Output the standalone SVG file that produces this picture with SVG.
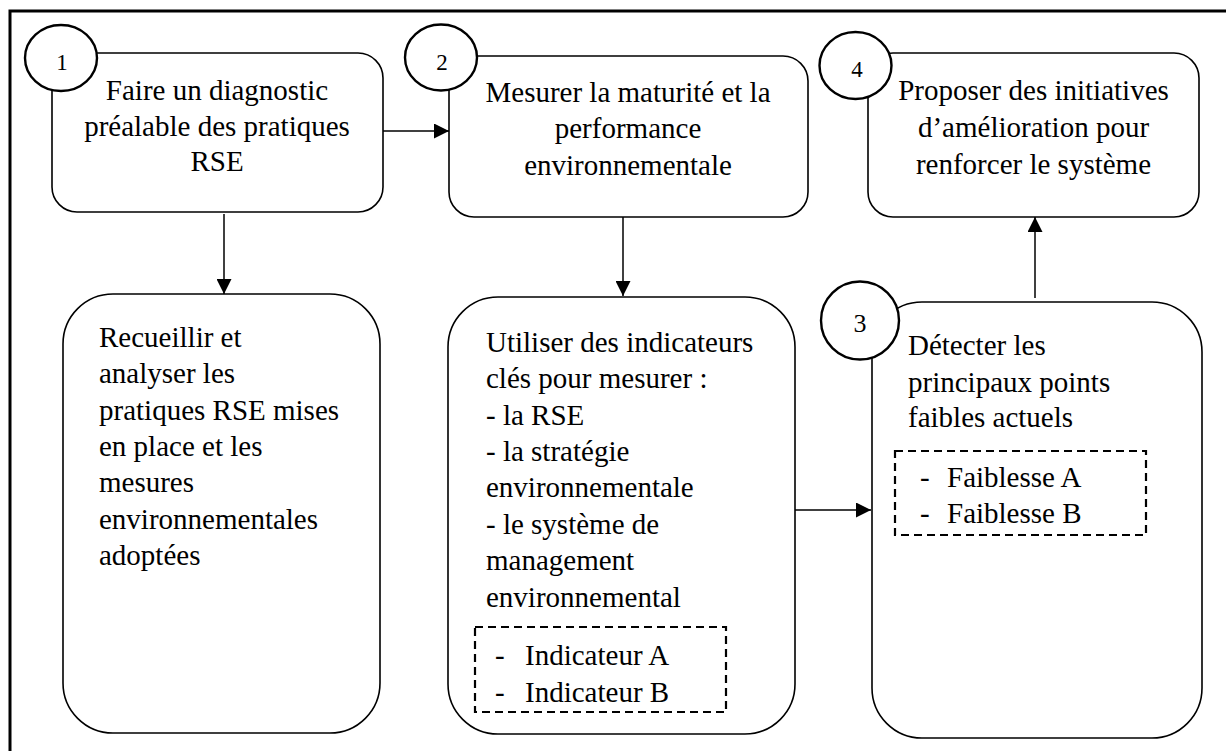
<svg xmlns="http://www.w3.org/2000/svg" width="1226" height="751" viewBox="0 0 1226 751">
<style>
.frame{fill:none;stroke:#000;stroke-width:3}
.box{fill:#fff;stroke:#000;stroke-width:1.6}
.num{fill:#fff;stroke:#000;stroke-width:2.4}
.dash{fill:none;stroke:#000;stroke-width:2.2;stroke-dasharray:8 5}
.conn{fill:none;stroke:#000;stroke-width:1.5}
.c{text-anchor:middle}
.n{font-size:23px;text-anchor:middle}
</style>
<defs>
<marker id="arr" viewBox="0 0 10 10" refX="10" refY="5" markerWidth="15" markerHeight="15" markerUnits="userSpaceOnUse" orient="auto">
<path d="M0,0 L10,5 L0,10 Z" fill="#000"/>
</marker>
</defs>
<rect class="frame" x="10" y="11" width="1240" height="760"/>
<g id="connectors">
<line class="conn" x1="383" y1="131" x2="449" y2="131" marker-end="url(#arr)"/>
<line class="conn" x1="224" y1="214" x2="224" y2="294" marker-end="url(#arr)"/>
<line class="conn" x1="623" y1="217" x2="623" y2="296" marker-end="url(#arr)"/>
<line class="conn" x1="795" y1="510" x2="871" y2="510" marker-end="url(#arr)"/>
<line class="conn" x1="1035" y1="298" x2="1035" y2="217" marker-end="url(#arr)"/>
</g>
<g font-family="Liberation Serif, Tinos, Times New Roman, serif" font-size="29" fill="#000">
<g id="node1">
<rect class="box" x="52" y="53" width="331" height="159" rx="25"/>
<text class="c" x="217" y="100">Faire un diagnostic</text>
<text class="c" x="217" y="135.5">préalable des pratiques</text>
<text class="c" x="217" y="171">RSE</text>
<ellipse class="num" cx="61" cy="58" rx="36" ry="33"/>
<text class="n" x="62" y="70">1</text>
</g>
<g id="node2">
<rect class="box" x="449" y="56" width="359" height="161" rx="25"/>
<text class="c" x="628" y="101.5">Mesurer la maturité et la</text>
<text class="c" x="628" y="138">performance</text>
<text class="c" x="628" y="174.5">environnementale</text>
<ellipse class="num" cx="441" cy="57.5" rx="36" ry="33"/>
<text class="n" x="442" y="70">2</text>
</g>
<g id="node4">
<rect class="box" x="868" y="53" width="331" height="164" rx="25"/>
<text class="c" x="1033.5" y="100">Proposer des initiatives</text>
<text class="c" x="1033.5" y="137">d’amélioration pour</text>
<text class="c" x="1033.5" y="174">renforcer le système</text>
<ellipse class="num" cx="855.5" cy="65.5" rx="36" ry="33.5"/>
<text class="n" x="857" y="77">4</text>
</g>
<g id="node1b">
<rect class="box" x="63" y="294" width="317" height="439" rx="50"/>
<text x="99" y="347">Recueillir et</text>
<text x="99" y="383.3">analyser les</text>
<text x="99" y="419.6">pratiques RSE mises</text>
<text x="99" y="455.9">en place et les</text>
<text x="99" y="492.2">mesures</text>
<text x="99" y="528.5">environnementales</text>
<text x="99" y="564.8">adoptées</text>
</g>
<g id="node2b">
<rect class="box" x="448" y="297" width="347" height="437" rx="50"/>
<text x="486" y="351.5">Utiliser des indicateurs</text>
<text x="486" y="388">clés pour mesurer :</text>
<text x="486" y="424.5">- la RSE</text>
<text x="486" y="460.5">- la stratégie</text>
<text x="486" y="497">environnementale</text>
<text x="486" y="533.5">- le système de</text>
<text x="486" y="570">management</text>
<text x="486" y="606.5">environnemental</text>
<rect class="dash" x="475" y="627" width="251" height="85"/>
<text x="495" y="665">-</text>
<text x="525" y="665">Indicateur A</text>
<text x="495" y="702">-</text>
<text x="525" y="702">Indicateur B</text>
</g>
<g id="node3">
<rect class="box" x="872" y="302" width="330" height="436" rx="50"/>
<text x="908" y="355">Détecter les</text>
<text x="908" y="391.5">principaux points</text>
<text x="908" y="427">faibles actuels</text>
<rect class="dash" x="895" y="451" width="251" height="84"/>
<text x="920" y="487">-</text>
<text x="947" y="487">Faiblesse A</text>
<text x="920" y="523">-</text>
<text x="947" y="523">Faiblesse B</text>
<circle class="num" cx="860" cy="320.5" r="39"/>
<text class="n" font-size="26" style="font-size:26px" x="860" y="332">3</text>
</g>
</g>
</svg>
